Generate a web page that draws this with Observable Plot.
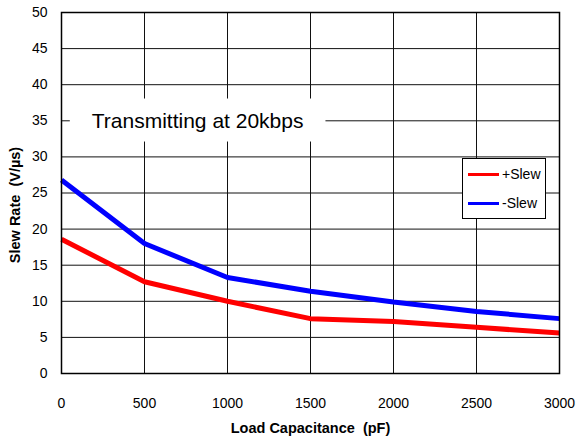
<!DOCTYPE html>
<html>
<head>
<meta charset="utf-8">
<script src="https://cdn.jsdelivr.net/npm/d3@7"></script>
<script src="https://cdn.jsdelivr.net/npm/@observablehq/plot@0.6"></script>
<style>
  html, body { margin: 0; padding: 0; background: #fff; }
  #wrap { position: relative; width: 578px; height: 444px; font-family: "Liberation Sans", Arial, sans-serif; }
  #legend { position: absolute; left: 462px; top: 158px; width: 82px; height: 59px; border: 1px solid #000; background: #fff; }
  .item { position: absolute; left: 5px; display: flex; align-items: center; font-size: 14px; color: #000; }
  .swatch { width: 31px; height: 3px; margin-right: 3px; }
</style>
</head>
<body>
<div id="wrap"></div>
<script>
const capacitance = [0, 500, 1000, 1500, 2000, 2500, 3000];
const plusSlew = [18.6, 12.7, 10.0, 7.6, 7.2, 6.4, 5.6];
const minusSlew = [26.8, 18.0, 13.3, 11.4, 9.9, 8.6, 7.6];
const seriesNames = ["+Slew", "-Slew"];
const seriesColors = ["#ff0000", "#0000ff"];
const xTicks = [0, 500, 1000, 1500, 2000, 2500, 3000];
const yTicks = [0, 5, 10, 15, 20, 25, 30, 35, 40, 45, 50];
const annotation = [{ label: "Transmitting at 20kbps", x: 820, y: 35 }];
const xTitle = "Load Capacitance  (pF)";
const yTitle = "Slew Rate  (V/µs)";

const rows = [];
capacitance.forEach((c, i) => {
  rows.push({ series: seriesNames[0], x: c, y: plusSlew[i] });
  rows.push({ series: seriesNames[1], x: c, y: minusSlew[i] });
});

const chart = Plot.plot({
  width: 578,
  height: 444,
  marginLeft: 61,
  marginRight: 19,
  marginTop: 12,
  marginBottom: 71,
  style: { fontFamily: "'Liberation Sans', Arial, sans-serif", fontSize: "14px", background: "#fff", color: "#000", overflow: "visible" },
  x: { domain: [0, 3000] },
  y: { domain: [0, 50] },
  color: { domain: seriesNames, range: seriesColors },
  marks: [
    Plot.gridX(xTicks, { stroke: "#111", strokeOpacity: 1, strokeWidth: 1 }),
    Plot.gridY(yTicks, { stroke: "#111", strokeOpacity: 1, strokeWidth: 1 }),
    Plot.axisX(xTicks, { tickSize: 0, tickPadding: 25, tickFormat: d3.format("d"), label: null, fontSize: 14 }),
    Plot.axisY(yTicks, { tickSize: 0, tickPadding: 14, tickFormat: d3.format("d"), label: null, fontSize: 14 }),
    Plot.text(annotation, { x: "x", y: "y", text: "label", fontSize: 21, fill: "#000" }),
    Plot.line(rows, { x: "x", y: "y", z: "series", stroke: "series", strokeWidth: 5, strokeLinejoin: "miter", strokeLinecap: "butt" }),
    Plot.frame({ stroke: "#000", strokeWidth: 1.5 }),
    Plot.text([xTitle], { frameAnchor: "bottom", dy: 59, text: d => d, fontWeight: "bold", fontSize: 14.5 }),
    Plot.text([yTitle], { frameAnchor: "left", textAnchor: "middle", dx: -46, dy: 12, rotate: -90, text: d => d, fontWeight: "bold", fontSize: 14.5 })
  ]
});

const wrap = document.getElementById("wrap");
wrap.appendChild(chart);

// white box behind annotation text
const annText = Array.from(chart.querySelectorAll("text")).find(el => el.textContent === annotation[0].label);
const bb = annText.getBBox();
const rect = document.createElementNS("http://www.w3.org/2000/svg", "rect");
rect.setAttribute("x", bb.x - 22);
rect.setAttribute("y", bb.y - 10);
rect.setAttribute("width", bb.width + 44);
rect.setAttribute("height", bb.height + 20);
rect.setAttribute("fill", "#fff");
if (annText.getAttribute("transform")) rect.setAttribute("transform", annText.getAttribute("transform"));
annText.parentNode.insertBefore(rect, annText);

// legend
const legend = document.createElement("div");
legend.id = "legend";
seriesNames.forEach((name, i) => {
  const item = document.createElement("div");
  item.className = "item";
  item.style.top = (i === 0 ? 7 : 36) + "px";
  const sw = document.createElement("div");
  sw.className = "swatch";
  sw.style.background = seriesColors[i];
  const lab = document.createElement("span");
  lab.textContent = name;
  item.appendChild(sw);
  item.appendChild(lab);
  legend.appendChild(item);
});
wrap.appendChild(legend);
</script>
</body>
</html>
